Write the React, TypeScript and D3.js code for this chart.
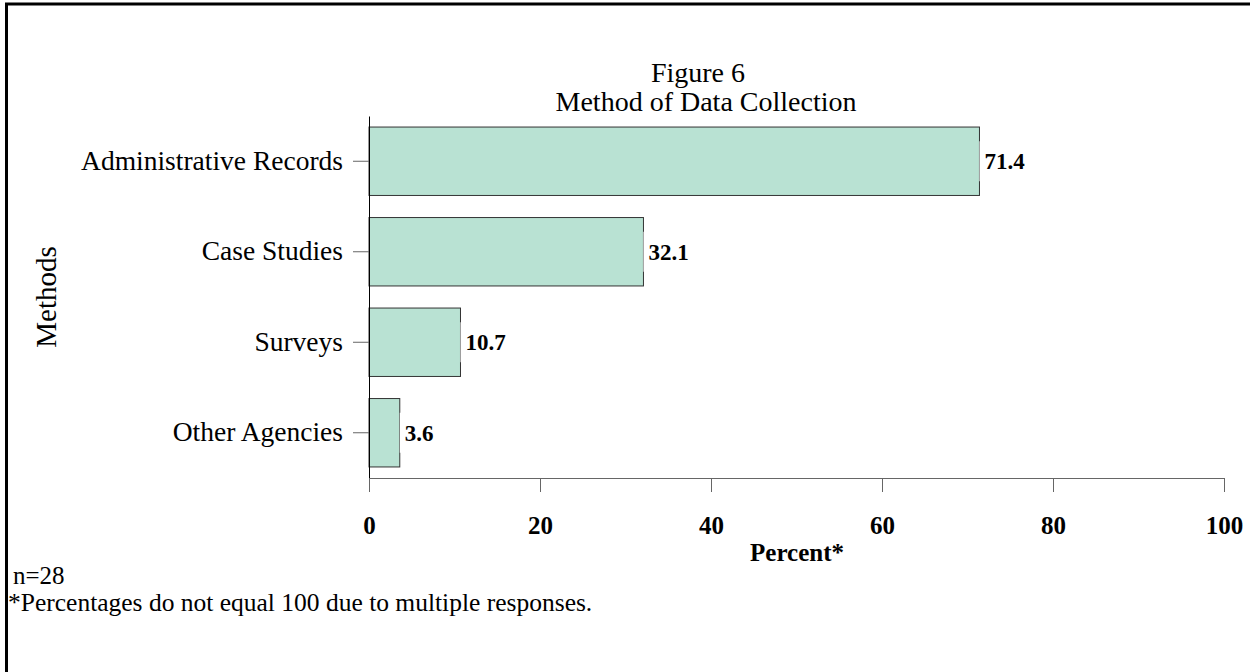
import React, { useEffect, useRef } from 'react';
import * as d3 from 'd3';

const categories = ['Administrative Records', 'Case Studies', 'Surveys', 'Other Agencies'];
const percents = [71.4, 32.1, 10.7, 3.6];
const xTicks = [0, 20, 40, 60, 80, 100];

const W = 1250;
const H = 672;
const SERIF = '"Liberation Serif", "Times New Roman", serif';

const App: React.FC = () => {
    const svgRef = useRef<SVGSVGElement>(null);

    useEffect(() => {
        if (!svgRef.current) return;
        const svg = d3.select(svgRef.current);
        svg.selectAll('*').remove();

        const margin = { left: 369, right: 26, top: 116, bottom: 194 };
        const plotW = W - margin.left - margin.right;
        const plotH = H - margin.top - margin.bottom;

        const x = d3.scaleLinear().domain([0, 100]).range([0, plotW]);
        const y = d3.scaleBand<string>()
            .domain(categories)
            .range([0, plotH])
            .paddingInner(0.244)
            .paddingOuter(0.122);

        // frame
        svg.append('line').attr('x1', 5).attr('x2', W).attr('y1', 4).attr('y2', 4)
            .attr('stroke', '#000').attr('stroke-width', 3);
        svg.append('line').attr('x1', 6.5).attr('x2', 6.5).attr('y1', 3).attr('y2', H)
            .attr('stroke', '#000').attr('stroke-width', 3);

        // title
        const title = svg.append('g').attr('font-family', SERIF).attr('fill', '#000')
            .attr('text-anchor', 'middle').attr('font-size', 28);
        title.append('text').attr('x', 698).attr('y', 82).text('Figure 6');
        title.append('text').attr('x', 706).attr('y', 111).text('Method of Data Collection');

        const g = svg.append('g').attr('transform', `translate(${margin.left},${margin.top})`);

        // bars
        const data = categories.map((c, i) => ({ c, v: percents[i] }));
        g.selectAll('.bar').data(data).join('rect')
            .attr('class', 'bar')
            .attr('x', 0)
            .attr('y', d => y(d.c)!)
            .attr('width', d => x(d.v))
            .attr('height', y.bandwidth())
            .attr('fill', '#b9e2d3')
            .attr('stroke', '#333')
            .attr('stroke-width', 1);

        // value labels with white backing
        const lab = g.selectAll('.val').data(data).join('g').attr('class', 'val')
            .attr('transform', d => `translate(${x(d.v)},${y(d.c)! + y.bandwidth() / 2})`);
        lab.append('rect').attr('x', 0).attr('y', -20).attr('width', 44).attr('height', 40)
            .attr('fill', '#fff');
        lab.append('text').attr('x', 5).attr('y', 8)
            .attr('font-family', SERIF).attr('font-size', 23).attr('font-weight', 'bold')
            .text(d => d.v.toFixed(1));

        // y axis
        const yAxis = g.append('g').call(d3.axisLeft(y).tickSize(16).tickPadding(10).tickSizeOuter(0));
        yAxis.select('.domain').attr('stroke', '#000');
        yAxis.selectAll('.tick line').attr('stroke', '#666');
        yAxis.selectAll('text').attr('font-family', SERIF).attr('font-size', 27.5).attr('fill', '#000')
            .attr('dy', '0.3em');

        // x axis
        const xAxis = g.append('g').attr('transform', `translate(0,${plotH})`)
            .call(d3.axisBottom(x).tickValues(xTicks).tickSize(14).tickPadding(24).tickSizeOuter(0));
        xAxis.select('.domain').attr('stroke', '#666');
        xAxis.selectAll('.tick line').attr('stroke', '#666');
        xAxis.selectAll('text').attr('font-family', SERIF).attr('font-size', 25).attr('font-weight', 'bold')
            .attr('fill', '#000');

        // axis titles
        svg.append('text').attr('x', 797).attr('y', 561).attr('text-anchor', 'middle')
            .attr('font-family', SERIF).attr('font-size', 25).attr('font-weight', 'bold').text('Percent*');
        svg.append('text').attr('transform', 'translate(56,297) rotate(-90)').attr('text-anchor', 'middle')
            .attr('font-family', SERIF).attr('font-size', 29).text('Methods');

        // notes
        svg.append('text').attr('x', 13).attr('y', 584).attr('font-family', SERIF).attr('font-size', 25)
            .text('n=28');
        svg.append('text').attr('x', 8).attr('y', 611).attr('font-family', SERIF).attr('font-size', 25.5)
            .text('*Percentages do not equal 100 due to multiple responses.');
    }, []);

    return (
        <svg ref={svgRef} width={W} height={H}
            style={{ position: 'absolute', left: 0, top: 0, background: '#fff' }} />
    );
};

export default App;
